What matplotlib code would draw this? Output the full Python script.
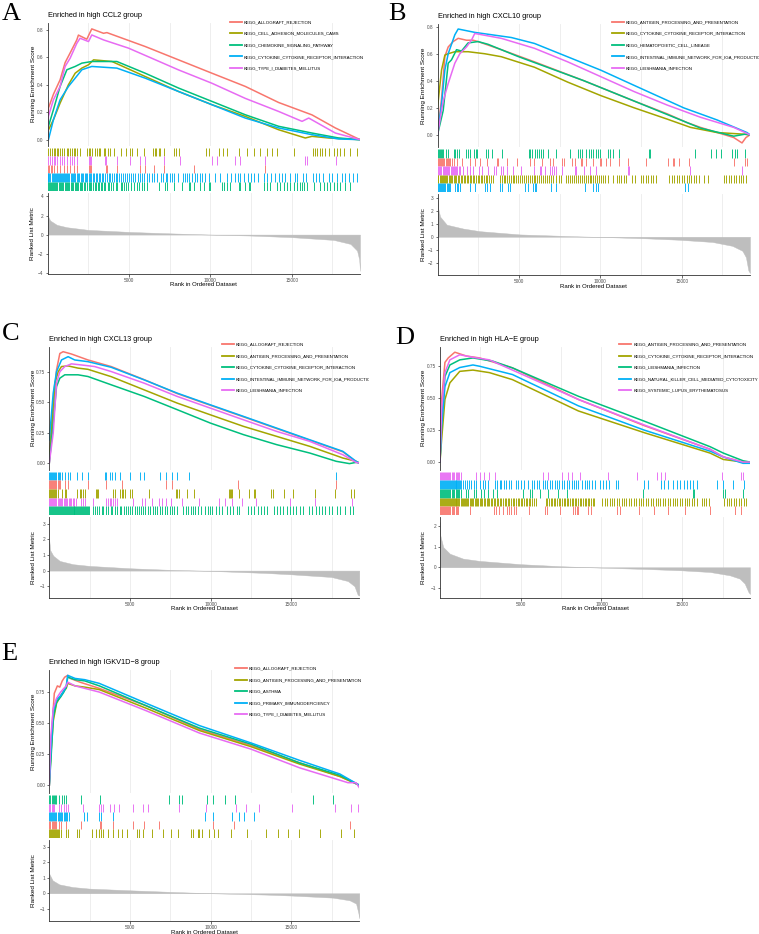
import matplotlib
matplotlib.use('Agg')
import matplotlib.pyplot as plt
from matplotlib.lines import Line2D
from matplotlib.transforms import Bbox

W, H = 759, 934
N_RANK = 19200
HUE = ['#F8766D', '#A3A500', '#00BF7D', '#00B0F6', '#E76BF3']

plt.rcParams['font.family'] = ['Liberation Sans', 'DejaVu Sans']

# ---------------- panel A ----------------
a_title = 'Enriched in high CCL2 group'
a_labels = ['KEGG_ALLOGRAFT_REJECTION', 'KEGG_CELL_ADHESION_MOLECULES_CAMS',
            'KEGG_CHEMOKINE_SIGNALING_PATHWAY', 'KEGG_CYTOKINE_CYTOKINE_RECEPTOR_INTERACTION',
            'KEGG_TYPE_I_DIABETES_MELLITUS']
a_curves = [
    [(0, 0.0), (57, 0.23), (365, 0.33), (775, 0.435), (1082, 0.56), (1390, 0.63), (1800, 0.725), (1900, 0.76),
     (2415, 0.73), (2720, 0.805), (3440, 0.773), (3650, 0.778), (6000, 0.677), (8050, 0.58), (10100, 0.483),
     (12150, 0.387), (14200, 0.27), (16250, 0.18), (17685, 0.085), (19200, 0.0)],
    [(0, 0.03), (57, 0.07), (365, 0.145), (775, 0.266), (1290, 0.40), (1700, 0.483), (2110, 0.52), (2520, 0.544),
     (2830, 0.58), (3960, 0.568), (6000, 0.459), (8050, 0.35), (10100, 0.254), (12150, 0.169), (14200, 0.072),
     (15840, 0.012), (16250, 0.024), (17280, 0.012), (19200, 0.0)],
    [(0, 0.04), (57, 0.097), (365, 0.218), (775, 0.387), (1190, 0.508), (1700, 0.532), (2110, 0.556),
     (2720, 0.568), (4260, 0.568), (6000, 0.483), (8050, 0.375), (10100, 0.278), (12150, 0.181), (14200, 0.097),
     (16250, 0.048), (17890, 0.012), (19200, 0.0)],
    [(0, 0.0), (57, 0.0), (365, 0.145), (775, 0.29), (1290, 0.387), (1700, 0.447), (2110, 0.508), (2720, 0.532),
     (4260, 0.52), (6000, 0.447), (8050, 0.35), (10100, 0.254), (12150, 0.157), (14200, 0.085), (16250, 0.036),
     (17890, 0.005), (19200, 0.0)],
    [(0, 0.0), (57, 0.17), (365, 0.29), (775, 0.387), (1082, 0.532), (1390, 0.592), (1800, 0.70), (2000, 0.737),
     (2520, 0.713), (2720, 0.761), (3440, 0.725), (4980, 0.665), (8050, 0.507), (10100, 0.41), (12150, 0.30),
     (14200, 0.205), (15640, 0.133), (16050, 0.157), (17685, 0.048), (19200, 0.0)],
]
a_hits = [
    [30, 100, 200, 300, 430, 575, 780, 985, 1190, 1395, 1600, 1805, 2520, 2585, 2665, 3610, 3650, 4270, 5660,
     6005, 6560, 7135, 9020, 13385],
    [60, 165, 265, 370, 470, 575, 675, 780, 880, 985, 1190, 1290, 1395, 1495, 1600, 1700, 1805, 1970, 2420, 2520,
     2625, 2725, 2930, 3035, 3135, 3240, 3445, 3545, 3690, 3855, 4060, 4510, 4840, 5085, 5185, 5495, 5905, 6480,
     6580, 6685, 6825, 6930, 7135, 7750, 7890, 8055, 9760, 9900, 10515, 10785, 11030, 11745, 12260, 12670, 13080,
     13490, 13795, 14105, 15130, 16320, 16460, 16565, 16770, 16870, 17075, 17280, 17590, 17795, 17995, 18205,
     18615, 18985],
    [0, 70, 140, 200, 270, 340, 400, 470, 540, 610, 680, 750, 820, 900, 970, 1050, 1130, 1200, 1280, 1350, 1430,
     1500, 1580, 1660, 1740, 1820, 1900, 1980, 2060, 2150, 2240, 2330, 2420, 2520, 2610, 2700, 2800, 2900, 3000,
     3080, 3180, 3260, 3360, 3460, 3560, 3700, 3800, 3900, 4050, 4200, 4300, 4500, 4600, 4700, 4850, 4950, 5100,
     5300, 5500, 5650, 5800, 5950, 6100, 6825, 7235, 7340, 7750, 8260, 8670, 8775, 8980, 9390, 9595, 9900, 10005,
     10720, 10825, 11030, 11235, 11745, 11850, 12155, 12360, 12465, 13285, 13490, 13695, 14105, 14310, 14515,
     14720, 14925, 15130, 15335, 15540, 15640, 15745, 15950, 16360, 16770, 16975, 17180, 17385, 17590, 17795,
     17995, 18305, 18615],
    [0, 60, 120, 180, 250, 310, 370, 440, 500, 570, 630, 700, 760, 830, 890, 950, 1020, 1090, 1150, 1220, 1290,
     1350, 1420, 1500, 1570, 1640, 1720, 1800, 1880, 1950, 2030, 2110, 2200, 2280, 2360, 2450, 2530, 2620, 2700,
     2790, 2880, 2970, 3060, 3150, 3250, 3350, 3440, 3540, 3640, 3750, 3850, 3960, 4070, 4180, 4290, 4400, 4520,
     4640, 4760, 4880, 5000, 5130, 5260, 5400, 5530, 5670, 5800, 5950, 6100, 6250, 6400, 6550, 6700, 7000, 7100,
     7250, 7350, 7500, 7650, 7800, 8000, 8300, 8450, 8600, 8700, 8900, 9050, 9200, 9350, 9500, 9700, 9900, 10300,
     10600, 11000, 11300, 11500, 11700, 11850, 12050, 12300, 12500, 12700, 12950, 13300, 13500, 13750, 13950,
     14200, 14400, 14600, 14900, 15200, 15300, 15700, 15900, 16300, 16500, 16700, 16900, 17300, 17500, 17800,
     18100, 18300, 18500, 18800, 19000],
    [60, 165, 265, 370, 470, 575, 740, 880, 985, 1190, 1395, 1495, 1600, 1805, 2520, 2625, 2665, 3545, 3610, 4270,
     5085, 5660, 6005, 7135, 8160, 10105, 10410, 11540, 11850, 13385, 15840, 15945, 17755],
]
a_rug_order = [1, 4, 0, 3, 2]
a_metric = [(0, 2.2), (40, 1.9), (165, 1.47), (575, 1.02), (1190, 0.77), (2520, 0.49), (5000, 0.28),
            (7340, 0.14), (10000, 0.0), (12460, -0.1), (15000, -0.27), (17590, -0.56), (18615, -0.98),
            (19020, -1.68), (19150, -2.6), (19200, -3.8)]

# ---------------- panel B ----------------
b_title = 'Enriched in high CXCL10 group'
b_labels = ['KEGG_ANTIGEN_PROCESSING_AND_PRESENTATION', 'KEGG_CYTOKINE_CYTOKINE_RECEPTOR_INTERACTION',
            'KEGG_HEMATOPOIETIC_CELL_LINEAGE', 'KEGG_INTESTINAL_IMMUNE_NETWORK_FOR_IGA_PRODUCTION',
            'KEGG_LEISHMANIA_INFECTION']
b_curves = [
    [(0, 0.0), (250, 0.27), (453, 0.58), (657, 0.65), (963, 0.69), (1270, 0.714), (1780, 0.70), (2190, 0.70),
     (2490, 0.69), (3920, 0.63), (5960, 0.54), (9000, 0.40), (12080, 0.25), (14120, 0.155), (15345, 0.09),
     (16160, 0.055), (18200, -0.02), (18710, -0.06), (18950, -0.02), (19200, 0.0)],
    [(0, 0.2), (250, 0.48), (453, 0.59), (657, 0.60), (1065, 0.615), (1880, 0.615), (2900, 0.60), (3920, 0.578),
     (5960, 0.50), (8000, 0.39), (10040, 0.29), (12080, 0.20), (14120, 0.116), (15550, 0.055), (17180, 0.017),
     (18800, 0.005), (19200, 0.0)],
    [(0, 0.0), (350, 0.18), (657, 0.53), (861, 0.555), (1170, 0.63), (1475, 0.62), (1880, 0.68), (2490, 0.69),
     (3100, 0.67), (4940, 0.58), (9000, 0.40), (12080, 0.25), (14120, 0.15), (16160, 0.05), (18200, -0.01),
     (18900, 0.005), (19200, 0.0)],
    [(0, 0.0), (250, 0.23), (453, 0.48), (657, 0.60), (861, 0.67), (1065, 0.74), (1270, 0.783), (2290, 0.758),
     (4535, 0.72), (5960, 0.676), (8000, 0.577), (10040, 0.478), (12080, 0.366), (15140, 0.199), (17180, 0.11),
     (19015, 0.017), (19200, 0.0)],
    [(0, 0.0), (350, 0.25), (657, 0.38), (1065, 0.53), (1370, 0.60), (1780, 0.65), (2085, 0.70), (2290, 0.75),
     (3920, 0.714), (5960, 0.64), (8000, 0.54), (10040, 0.43), (12080, 0.32), (14120, 0.22), (16160, 0.13),
     (18200, 0.055), (19200, 0.0)],
]
b_hits = [
    [30, 100, 165, 230, 300, 365, 430, 500, 570, 640, 710, 780, 880, 985, 1185, 1490, 2000, 2305, 2610, 3060,
     3630, 3735, 4245, 4855, 5670, 5915, 6445, 6935, 7100, 7670, 7750, 8280, 8425, 8790, 8895, 9100, 9545, 9955,
     10055, 10365, 10570, 11140, 11690, 12810, 14135, 14445, 14545, 14850, 15465, 18215, 18890, 18990],
    [0, 60, 130, 190, 260, 330, 400, 470, 540, 610, 680, 760, 840, 920, 1000, 1080, 1160, 1250, 1340, 1430, 1520,
     1610, 1700, 1790, 1880, 1970, 2060, 2160, 2260, 2360, 2460, 2560, 2660, 2760, 2860, 2960, 3060, 3160, 3260,
     3380, 3860, 3960, 4060, 4170, 4280, 4390, 4500, 4610, 4720, 4830, 4940, 5060, 5180, 5300, 5420, 5540, 5660,
     5780, 5900, 6020, 6140, 6260, 6380, 6500, 6620, 6740, 6860, 6980, 7100, 7250, 7450, 7600, 7900, 8020, 8140,
     8260, 8380, 8500, 8620, 8740, 8860, 8980, 9100, 9220, 9340, 9460, 9580, 9700, 9820, 9940, 10060, 10180,
     10300, 10450, 10770, 11000, 11150, 11300, 11450, 11600, 11950, 12150, 12500, 12650, 12800, 12950, 13100,
     13250, 13400, 14250, 14400, 14550, 14700, 14850, 15000, 15150, 15300, 15450, 15600, 15750, 15900, 16050,
     16400, 16600, 17600, 17750, 17900, 18050, 18200, 18350, 18500, 18650, 18800, 18930],
    [30, 90, 160, 230, 300, 365, 530, 675, 1020, 1100, 1185, 1345, 1755, 1900, 2000, 2245, 2345, 2450, 2980, 3120,
     3325, 3940, 5630, 5710, 5835, 5980, 6120, 6240, 6385, 6490, 6795, 7305, 8120, 8630, 8730, 8895, 9140, 9300,
     9445, 9545, 9710, 9855, 9955, 10465, 10570, 10770, 11140, 12975, 13055, 15830, 16790, 17095, 17400, 18115,
     18280, 18420, 18890],
    [0, 70, 140, 210, 280, 350, 420, 490, 560, 640, 710, 780, 1080, 1185, 1285, 1385, 2000, 2305, 2915, 3020, 3225,
     3835, 3940, 4345, 4450, 5365, 5570, 5875, 5980, 6080, 7000, 7305, 9035, 9545, 9750, 9855, 15220, 15360],
    [30, 100, 170, 240, 310, 380, 450, 520, 590, 660, 730, 800, 870, 940, 1010, 1080, 1150, 1220, 1300, 1400,
     1550, 1795, 2000, 2200, 2570, 2715, 3120, 3470, 3590, 3875, 4000, 4245, 4610, 5160, 5935, 6285, 6385, 6630,
     6935, 7060, 7160, 7260, 7650, 8425, 8525, 9000, 9345, 9710, 11690, 11750, 15525, 18725],
]
b_rug_order = [2, 0, 4, 1, 3]
b_metric = [(0, 2.95), (40, 2.2), (160, 1.55), (570, 0.93), (1590, 0.63), (2610, 0.43), (5060, 0.18),
            (8730, 0.03), (10500, -0.03), (12810, -0.12), (14850, -0.23), (16890, -0.40), (18115, -0.70),
            (18730, -1.08), (18950, -1.58), (19100, -2.6), (19200, -2.8)]

# ---------------- panel C ----------------
c_title = 'Enriched in high CXCL13 group'
c_labels = ['KEGG_ALLOGRAFT_REJECTION', 'KEGG_ANTIGEN_PROCESSING_AND_PRESENTATION',
            'KEGG_CYTOKINE_CYTOKINE_RECEPTOR_INTERACTION', 'KEGG_INTESTINAL_IMMUNE_NETWORK_FOR_IGA_PRODUCTION',
            'KEGG_LEISHMANIA_INFECTION']
c_curves = [
    [(0, 0.0), (242, 0.465), (447, 0.765), (652, 0.90), (857, 0.915), (1370, 0.896), (2395, 0.847),
     (3830, 0.793), (5880, 0.685), (7930, 0.570), (9980, 0.474), (12030, 0.379), (14080, 0.283), (16130, 0.187),
     (18180, 0.092), (19000, 0.01), (19200, 0.0)],
    [(0, 0.055), (345, 0.656), (550, 0.75), (755, 0.793), (1165, 0.798), (1780, 0.78), (2395, 0.77), (3830, 0.71),
     (5880, 0.601), (7930, 0.492), (9980, 0.396), (12030, 0.301), (14080, 0.219), (16130, 0.137), (18180, 0.041),
     (19000, 0.014), (19200, 0.0)],
    [(0, 0.0), (242, 0.328), (447, 0.628), (652, 0.697), (960, 0.725), (1780, 0.725), (2395, 0.711),
     (3830, 0.643), (5880, 0.547), (7930, 0.438), (9980, 0.328), (12030, 0.233), (14080, 0.151), (16130, 0.082),
     (17770, 0.014), (18590, -0.005), (19000, 0.005), (19200, 0.0)],
    [(0, 0.19), (242, 0.574), (447, 0.75), (755, 0.847), (1165, 0.874), (1575, 0.847), (2395, 0.833),
     (3830, 0.787), (5880, 0.683), (7930, 0.574), (9980, 0.478), (12030, 0.383), (14080, 0.287), (16130, 0.191),
     (18180, 0.096), (19000, 0.014), (19200, 0.0)],
    [(0, 0.0), (242, 0.246), (447, 0.656), (652, 0.75), (960, 0.793), (1370, 0.815), (1985, 0.806),
     (2805, 0.793), (3830, 0.752), (5880, 0.656), (7930, 0.547), (9980, 0.451), (12030, 0.355), (14080, 0.26),
     (16130, 0.178), (18180, 0.068), (19000, 0.005), (19200, 0.0)],
]
c_hits = [
    [0, 60, 120, 180, 240, 300, 370, 440, 510, 580, 650, 965, 1170, 2400, 3525, 4510, 7215, 7585, 11685, 17775],
    [0, 60, 120, 180, 240, 300, 370, 440, 510, 760, 965, 1065, 1720, 1885, 1990, 2090, 2195, 2870, 2950, 3035,
     3935, 4040, 4385, 4510, 4590, 4715, 5000, 5105, 6150, 7830, 7935, 8035, 8550, 8960, 11110, 11215, 11275,
     11315, 11725, 12340, 12650, 12750, 13735, 13880, 14555, 15110, 16480, 17710, 18695, 18860],
    [0, 60, 120, 180, 240, 300, 360, 420, 480, 540, 600, 660, 720, 780, 840, 900, 960, 1020, 1080, 1140, 1200,
     1260, 1320, 1380, 1440, 1500, 1560, 1620, 1680, 1740, 1800, 1860, 1920, 1980, 2040, 2100, 2160, 2220, 2280,
     2340, 2400, 2460, 2700, 2800, 2950, 3100, 3250, 3350, 3500, 3650, 3800, 3900, 4050, 4200, 4350, 4450, 4600,
     4750, 4900, 5000, 5150, 5300, 5450, 5550, 5700, 5800, 5950, 6100, 6250, 6400, 6550, 6700, 6850, 7000, 7150,
     7300, 7450, 7600, 7750, 7900, 8300, 8450, 8600, 8750, 8900, 9050, 9200, 9400, 9650, 9800, 9950, 10100,
     10300, 10500, 10700, 11000, 11200, 11400, 11600, 11750, 12300, 12500, 12700, 12900, 13100, 13300, 13500,
     13900, 14100, 14300, 14500, 14700, 14900, 15100, 15300, 15500, 15700, 16100, 16300, 16500, 16700, 16900,
     17100, 17300, 17500, 17800, 18000, 18300, 18600, 18800],
    [0, 60, 120, 180, 240, 300, 370, 440, 510, 580, 650, 760, 965, 1170, 1310, 1720, 2050, 2400, 3425, 3525, 3770,
     3895, 4040, 4385, 5000, 5615, 5885, 6845, 7255, 7585, 7935, 8650, 17775],
    [0, 60, 120, 180, 240, 300, 370, 440, 510, 580, 650, 720, 800, 880, 960, 1040, 1120, 1200, 1280, 1360, 1450,
     1540, 1630, 1990, 2090, 2195, 2705, 3525, 3630, 3730, 3835, 3935, 4040, 4180, 5165, 5740, 5945, 6355, 6765,
     6970, 7215, 7525, 8240, 9265, 10495, 10905, 11315, 11930, 12790, 14900, 16440, 18760],
]
c_rug_order = [3, 0, 1, 4, 2]
c_metric = [(0, 1.9), (60, 1.3), (250, 0.95), (650, 0.62), (1475, 0.41), (2500, 0.30), (5000, 0.15),
            (7200, 0.06), (10000, -0.02), (13370, -0.15), (15000, -0.24), (17470, -0.41), (18490, -0.67),
            (18900, -1.0), (19100, -1.55), (19200, -1.6)]

# ---------------- panel D ----------------
d_title = 'Enriched in high HLA\u2212E group'
d_labels = ['KEGG_ANTIGEN_PROCESSING_AND_PRESENTATION', 'KEGG_CYTOKINE_CYTOKINE_RECEPTOR_INTERACTION',
            'KEGG_LEISHMANIA_INFECTION', 'KEGG_NATURAL_KILLER_CELL_MEDIATED_CYTOTOXICITY',
            'KEGG_SYSTEMIC_LUPUS_ERYTHEMATOSUS']
d_curves = [
    [(0, 0.0), (100, 0.49), (306, 0.78), (510, 0.815), (918, 0.86), (1632, 0.83), (2450, 0.815), (4490, 0.737),
     (8570, 0.49), (12650, 0.285), (16730, 0.10), (17550, 0.04), (18770, 0.0), (19200, 0.0)],
    [(0, 0.0), (100, 0.175), (306, 0.49), (612, 0.62), (1224, 0.71), (2040, 0.72), (3060, 0.70), (4490, 0.645),
     (8570, 0.40), (12650, 0.23), (16730, 0.07), (17550, 0.02), (18770, 0.0), (19200, 0.0)],
    [(0, 0.0), (100, 0.33), (306, 0.67), (612, 0.76), (1224, 0.80), (2040, 0.815), (3265, 0.79), (4490, 0.737),
     (8570, 0.515), (12650, 0.32), (16730, 0.12), (17550, 0.07), (18770, 0.01), (19200, 0.0)],
    [(0, 0.0), (100, 0.28), (306, 0.59), (612, 0.70), (1224, 0.74), (2040, 0.76), (2450, 0.75), (4490, 0.685),
     (8570, 0.44), (12650, 0.25), (16730, 0.085), (17550, 0.04), (18770, -0.01), (19200, -0.01)],
    [(0, 0.0), (100, 0.41), (306, 0.70), (612, 0.80), (1224, 0.84), (2040, 0.82), (3060, 0.80), (4490, 0.72),
     (8570, 0.49), (12650, 0.29), (16730, 0.10), (17550, 0.04), (18770, 0.0), (19200, 0.0)],
]
d_hits = [
    [0, 60, 120, 180, 240, 300, 370, 440, 510, 580, 650, 720, 800, 880, 960, 1040, 1100, 1835, 3365, 3470, 3630,
     3875, 4180, 4285, 4385, 4590, 4690, 5510, 6530, 6630, 7445, 8260, 8365, 8465, 8570, 9180, 9325, 10975, 11120,
     12340, 13260, 14115, 15200, 16730, 18260, 18665],
    [0, 60, 120, 180, 240, 300, 360, 420, 480, 540, 600, 660, 720, 780, 840, 900, 960, 1020, 1080, 1140, 1200,
     1270, 1340, 1410, 1480, 1550, 1620, 1690, 1760, 1830, 1900, 1980, 2060, 2140, 2220, 2300, 2380, 2460, 2540,
     2620, 2700, 2790, 2880, 2970, 3060, 3150, 3240, 3330, 3420, 3510, 3600, 3700, 3800, 3900, 4000, 4100, 4200,
     4300, 4400, 4500, 4600, 4700, 4800, 4900, 5000, 5100, 5200, 5300, 5400, 5500, 5600, 5700, 5800, 5950, 6550,
     6650, 6750, 6850, 6950, 7050, 7150, 7250, 7350, 7450, 7550, 7650, 7750, 7850, 7950, 8050, 8150, 8250, 8350,
     8450, 8550, 8650, 8750, 8850, 8950, 9050, 9150, 9250, 9350, 9450, 9550, 10050, 10200, 10350, 10500, 10650,
     10800, 10950, 11100, 11250, 11400, 11550, 11700, 11850, 12000, 12150, 12300, 12450, 12600, 12750, 12900,
     13050, 13200, 13350, 13500, 13650, 13800, 13950, 14100, 14250, 14400, 14550, 14700, 14850, 15000, 15150,
     15300, 15450, 15600, 15750, 15900, 16200, 16350, 16500, 16650, 17600, 17750, 17900, 18050, 18200, 18350,
     18500, 18650, 18800, 18950],
    [0, 60, 120, 180, 240, 300, 370, 440, 510, 580, 650, 720, 800, 880, 960, 1040, 1120, 1200, 1290, 1590, 1735,
     2080, 2205, 2550, 2695, 2960, 3265, 3510, 5140, 5550, 5670, 6220, 6690, 7305, 7895, 12585, 15665, 15750,
     17545, 17645, 18770],
    [0, 60, 120, 180, 240, 300, 360, 420, 480, 540, 600, 660, 720, 780, 840, 900, 960, 1020, 1080, 1140, 1200,
     1260, 1320, 1400, 1550, 1650, 1800, 1950, 2100, 2250, 2500, 2650, 2800, 2950, 3400, 3550, 3700, 3800, 3950,
     4100, 4250, 4400, 4700, 4850, 5000, 5200, 5450, 5700, 5850, 6000, 6150, 6350, 6500, 6650, 6800, 6950, 7100,
     7250, 7400, 7550, 7700, 7850, 8000, 8150, 8300, 8450, 8550, 8800, 8950, 9100, 9250, 9400, 9600, 9900, 10100,
     10300, 10450, 10900, 11050, 12650, 12900, 13700, 13900, 14100, 14450, 14650, 14850, 15100, 15300, 15500,
     15700, 15900, 17150, 17550, 18150, 18850],
    [0, 60, 120, 180, 240, 300, 370, 440, 510, 580, 650, 720, 800, 880, 960, 1040, 1120, 1200, 1290, 2245, 2450,
     2755, 3020, 3425, 6365, 6670, 7550, 7915, 8200, 8670, 10405, 12200, 13425, 13670, 13915, 17440, 18665, 18770],
]
d_rug_order = [4, 3, 2, 1, 0]
d_metric = [(0, 2.2), (20, 1.55), (200, 0.98), (610, 0.66), (1430, 0.42), (2450, 0.31), (5000, 0.15),
            (7550, 0.05), (10000, -0.02), (12650, -0.08), (15000, -0.15), (16730, -0.23), (17950, -0.39),
            (18560, -0.55), (18870, -0.79), (19100, -1.2), (19200, -1.3)]

# ---------------- panel E ----------------
e_title = 'Enriched in high IGKV1D\u22128 group'
e_labels = ['KEGG_ALLOGRAFT_REJECTION', 'KEGG_ANTIGEN_PROCESSING_AND_PRESENTATION', 'KEGG_ASTHMA',
            'KEGG_PRIMARY_IMMUNODEFICIENCY', 'KEGG_TYPE_I_DIABETES_MELLITUS']
e_curves = [
    [(0, 0.0), (165, 0.47), (310, 0.74), (500, 0.80), (650, 0.79), (800, 0.84), (950, 0.87), (1140, 0.885),
     (1300, 0.86), (1900, 0.83), (3100, 0.78), (6000, 0.64), (9300, 0.45), (12500, 0.32), (15500, 0.18),
     (18000, 0.07), (19200, 0.0)],
    [(0, 0.0), (100, 0.25), (250, 0.52), (450, 0.66), (700, 0.72), (900, 0.76), (1050, 0.78), (1140, 0.82),
     (1600, 0.80), (2200, 0.79), (3100, 0.77), (6000, 0.62), (9300, 0.44), (12500, 0.31), (15500, 0.17),
     (18000, 0.07), (19200, 0.0)],
    [(0, 0.0), (100, 0.2), (250, 0.55), (450, 0.67), (700, 0.71), (900, 0.75), (1050, 0.79), (1140, 0.87),
     (1600, 0.85), (2200, 0.84), (3100, 0.80), (6000, 0.64), (9300, 0.46), (12500, 0.33), (15500, 0.18),
     (18000, 0.08), (19200, 0.0)],
    [(0, 0.0), (100, 0.30), (250, 0.60), (450, 0.69), (700, 0.72), (900, 0.76), (1050, 0.80), (1140, 0.885),
     (1600, 0.86), (2200, 0.85), (3100, 0.82), (6000, 0.66), (9300, 0.48), (12500, 0.34), (15500, 0.20),
     (18000, 0.09), (19200, 0.0)],
    [(0, 0.0), (100, 0.40), (250, 0.62), (450, 0.70), (700, 0.75), (900, 0.78), (1050, 0.80), (1140, 0.83),
     (1600, 0.80), (2200, 0.78), (3100, 0.75), (6000, 0.60), (9300, 0.42), (12500, 0.29), (15500, 0.14),
     (17500, 0.06), (18500, 0.02), (19000, 0.02), (19200, -0.02)],
]
e_hits = [
    [0, 70, 140, 210, 280, 350, 415, 620, 725, 1035, 1965, 3140, 3200, 3965, 5165, 5890, 6820, 10125, 11465, 18595],
    [0, 60, 120, 180, 240, 300, 360, 420, 480, 520, 620, 725, 1035, 1135, 1695, 1820, 2645, 2890, 3060, 3200,
     3345, 3615, 3925, 4235, 4505, 4795, 5415, 5535, 5825, 6365, 7025, 7540, 7975, 8780, 8885, 9195, 9295, 9460,
     9915, 10225, 10435, 11260, 12230, 13430, 14150, 14795, 15495, 16735, 18080, 18860],
    [0, 70, 140, 210, 280, 350, 415, 620, 785, 930, 1035, 1965, 3140, 7440, 8015, 8220, 9770, 10125, 10865, 11485,
     16360, 17560],
    [0, 60, 120, 180, 240, 300, 370, 440, 510, 580, 650, 720, 800, 880, 960, 1040, 1120, 1240, 2170, 2315, 3100,
     3200, 3925, 9670, 10125, 11320, 11735, 12085, 12705],
    [0, 70, 140, 210, 310, 620, 725, 930, 1035, 1135, 2065, 3100, 3200, 3305, 3780, 4030, 4340, 5165, 5785, 6095,
     8055, 9710, 11570, 12190, 12975, 15040, 17665, 18655, 19110],
]
e_rug_order = [2, 4, 3, 0, 1]
e_metric = [(0, 1.25), (205, 0.83), (620, 0.57), (1450, 0.40), (2480, 0.30), (5000, 0.19), (7640, 0.085),
            (10040, 0.0), (13430, -0.085), (15080, -0.15), (17560, -0.28), (18600, -0.45), (19000, -0.66),
            (19150, -1.3), (19200, -1.6)]

fig = plt.figure(figsize=(W / 100, H / 100), dpi=100)


def rect(left, top, right, bottom):
    return [left / W, 1 - bottom / H, (right - left) / W, (bottom - top) / H]


def ftext(x, y, s, **kw):
    return fig.text(x / W, 1 - y / H, s, **kw)


def style_axis(ax):
    ax.tick_params(axis='both', which='major', labelsize=3.4, labelcolor='#4D4D4D', color='#333333',
                   length=1.8, width=0.5, pad=1)
    ax.set_xticks([5000, 10000, 15000])
    ax.set_xticks([2500, 7500, 12500, 17500], minor=True)
    ax.tick_params(axis='x', which='minor', length=0)
    ax.grid(axis='x', which='both', color='#EBEBEB', lw=0.6)
    ax.set_axisbelow(True)
    ax.set_xlim(0, N_RANK)
    for s in ['top', 'right']:
        ax.spines[s].set_visible(False)
    for s in ['left', 'bottom']:
        ax.spines[s].set_color('#333333')
        ax.spines[s].set_linewidth(0.6)


def draw_panel(box, letter, letter_xy, title, labels, curves, hits, rug_order, metric,
               es_lim, es_ticks, es_ticklabels, m_lim, m_ticks, leg_xy, lab_dx, clip_x):
    left, right, top = box
    es_bot = top + 123
    rug_top, rug_bot = es_bot + 2, es_bot + 45
    m_top, m_bot = rug_bot + 2, rug_bot + 83

    # running enrichment score
    ax1 = fig.add_axes(rect(left, top, right, es_bot))
    style_axis(ax1)
    for i, pts in enumerate(curves):
        ax1.plot([p[0] for p in pts], [p[1] for p in pts], color=HUE[i], lw=1.1, solid_joinstyle='round')
    ax1.set_ylim(*es_lim)
    ax1.set_yticks(es_ticks)
    ax1.set_yticklabels(es_ticklabels)
    ax1.tick_params(axis='x', which='both', length=0, labelbottom=False)
    ax1.spines['bottom'].set_visible(False)

    handles = [Line2D([], [], color=HUE[i], lw=1.3) for i in range(len(labels))]
    leg = ax1.legend(handles, labels, loc='upper left',
                     bbox_to_anchor=(leg_xy[0] / W, 1 - leg_xy[1] / H), bbox_transform=fig.transFigure,
                     frameon=False, fontsize=3.15, handlelength=2.7, handletextpad=0.5,
                     labelspacing=1.72, borderpad=0, borderaxespad=0)
    clip = Bbox.from_extents(0, 0, clip_x, H)
    for t in leg.get_texts():
        t.set_clip_box(clip)
        t.set_clip_on(True)

    # gene hits
    ax2 = fig.add_axes(rect(left, rug_top, right, rug_bot))
    n = len(rug_order)
    for row, idx in enumerate(rug_order):
        ax2.vlines(hits[idx], n - row - 1, n - row, color=HUE[idx], lw=0.65)
    ax2.set_xlim(0, N_RANK)
    ax2.set_ylim(0, n)
    ax2.axis('off')

    # ranked list metric
    ax3 = fig.add_axes(rect(left, m_top, right, m_bot))
    style_axis(ax3)
    mx = [p[0] for p in metric]
    my = [p[1] for p in metric]
    ax3.fill_between(mx, 0, my, color='#BEBEBE', lw=0.3, edgecolor='#BEBEBE')
    ax3.set_ylim(*m_lim)
    ax3.set_yticks(m_ticks)
    ax3.set_yticklabels([str(t).replace('-', '\u2212') for t in m_ticks])

    # texts
    ftext(letter_xy[0], letter_xy[1], letter, family='Liberation Serif', fontsize=19, va='baseline')
    ftext(left, top - 7, title, fontsize=5.3, va='center', ha='left')
    ftext(left - lab_dx, (top + es_bot) / 2, 'Running Enrichment Score', fontsize=4.6,
          rotation=90, va='center', ha='center')
    ftext(left - lab_dx, (m_top + m_bot) / 2, 'Ranked List Metric', fontsize=4.6,
          rotation=90, va='center', ha='center')
    ftext((left + right) / 2, m_bot + 11, 'Rank in Ordered Dataset', fontsize=4.3, va='center', ha='center')


tick2 = [0.0, 0.2, 0.4, 0.6, 0.8]
tick2_lab = ['0.0', '0.2', '0.4', '0.6', '0.8']
tick25 = [0.0, 0.25, 0.5, 0.75]
tick25_lab = ['0.00', '0.25', '0.50', '0.75']

draw_panel((47.5, 360, 22.7), 'A', (1.5, 20.5), a_title, a_labels, a_curves, a_hits, a_rug_order, a_metric,
           (-0.044, 0.85), tick2, tick2_lab, (-4.1, 4.39), [-4, -2, 0, 2, 4], (230, 20.2), 14.5, 369)
draw_panel((437.5, 750, 24), 'B', (388, 20.5), b_title, b_labels, b_curves, b_hits, b_rug_order, b_metric,
           (-0.09, 0.82), tick2, tick2_lab, (-2.95, 3.3), [-2, -1, 0, 1, 2, 3], (611.7, 20.2), 14.2, 759)
draw_panel((49.3, 359.3, 346.7), 'C', (1.5, 340.5), c_title, c_labels, c_curves, c_hits, c_rug_order, c_metric,
           (-0.055, 0.956), tick25, tick25_lab, (-1.74, 3.46), [-1, 0, 1, 2, 3], (221.7, 342.4), 16, 369)
draw_panel((440, 750, 346.7), 'D', (395, 343.5), d_title, d_labels, d_curves, d_hits, d_rug_order, d_metric,
           (-0.06, 0.903), tick25, tick25_lab, (-1.48, 2.46), [-1, 0, 1, 2], (619.3, 342.4), 16.5, 759)
draw_panel((49.3, 359.3, 670), 'E', (1.5, 660.5), e_title, e_labels, e_curves, e_hits, e_rug_order, e_metric,
           (-0.063, 0.928), tick25, tick25_lab, (-1.78, 3.42), [-1, 0, 1, 2, 3], (235, 666.4), 16, 369)

fig.savefig('out.png', dpi=100)
